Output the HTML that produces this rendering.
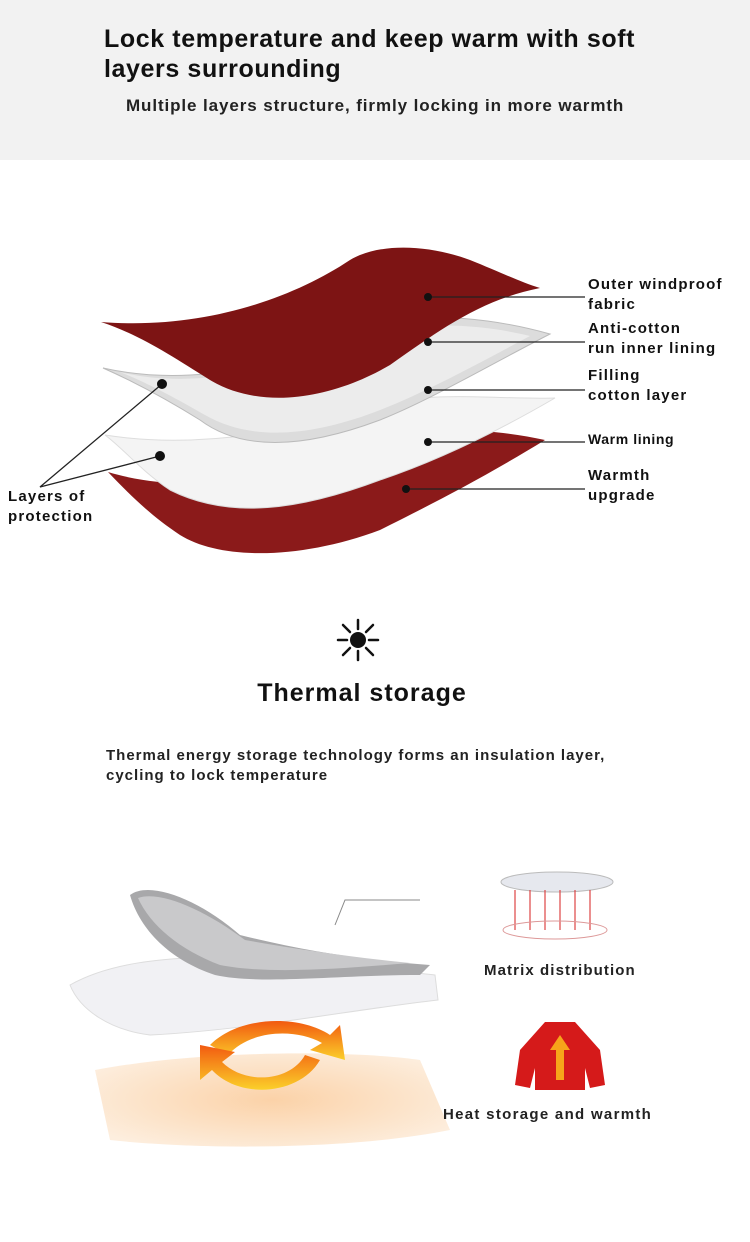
<!DOCTYPE html>
<html><head><meta charset="utf-8"><style>
body{margin:0;background:#fff;}
#w{position:relative;width:750px;height:1242px;overflow:hidden;font-family:"Liberation Sans",sans-serif;background:#fff;}
.t{position:absolute;font-weight:bold;color:#111;white-space:nowrap;}
.l{font-size:15px;line-height:20px;letter-spacing:1.2px}
</style></head><body><div id="w">
<div style="position:absolute;left:0;top:0;width:750px;height:160px;background:#f2f2f2"></div>
<div class="t" style="left:104px;top:24px;font-size:25px;line-height:30px;letter-spacing:0.6px">Lock temperature and keep warm with soft<br>layers surrounding</div>
<div class="t" style="left:126px;top:96px;font-size:17px;color:#222;letter-spacing:0.9px">Multiple layers structure, firmly locking in more warmth</div>
<svg style="position:absolute;left:0;top:0" width="750" height="1242">
<defs>
<radialGradient id="peach" cx="0.5" cy="0.5" r="0.6"><stop offset="0" stop-color="#fbd2a8"/><stop offset="1" stop-color="#fdeede"/></radialGradient>
<linearGradient id="or" x1="0" y1="0" x2="0" y2="1"><stop offset="0" stop-color="#f25a10"/><stop offset="1" stop-color="#fbd02a"/></linearGradient>
</defs>
<path d="M108 472 C200 500 300 470 380 440 C440 425 500 430 545 440 C480 480 420 510 380 530 C300 560 220 560 180 535 C150 515 130 495 108 472Z" fill="#8b1a1a"/>
<path d="M105 435 C200 450 300 430 380 405 C440 390 500 400 555 398 C500 430 440 460 380 480 C300 510 230 520 170 490 C140 470 125 450 105 435Z" fill="#f4f4f4" stroke="#ddd"/>
<path d="M103 368 C200 390 300 360 380 325 C430 310 500 320 550 334 C480 370 430 400 380 420 C300 450 240 450 200 420 C160 395 130 380 103 368Z" fill="#dcdcdc" stroke="#bbb"/>
<path d="M120 372 C200 392 300 365 380 333 C430 320 490 326 530 336 C470 368 420 395 375 412 C300 440 245 438 205 415 C170 395 145 382 120 372Z" fill="#ececec"/>
<path d="M101 322 C200 330 290 300 350 260 C380 242 430 245 470 260 C500 272 520 282 540 288 C480 300 440 330 390 365 C330 400 260 410 210 380 C170 355 140 335 101 322Z" fill="#7d1414"/>
<g stroke="#222" stroke-width="1.3" fill="none">
<path d="M428 297 L585 297"/><path d="M428 342 L585 342"/><path d="M428 390 L585 390"/><path d="M428 442 L585 442"/><path d="M406 489 L585 489"/>
<path d="M162 384 L40 487 L160 456"/>
</g>
<g fill="#111"><circle cx="428" cy="297" r="4"/><circle cx="428" cy="342" r="4"/><circle cx="428" cy="390" r="4"/><circle cx="428" cy="442" r="4"/><circle cx="406" cy="489" r="4"/><circle cx="162" cy="384" r="5"/><circle cx="160" cy="456" r="5"/></g>
<g transform="translate(358,640)" fill="#111">
<circle r="8"/>
<g stroke="#111" stroke-width="2.5" stroke-linecap="round">
<line x1="0" y1="-11" x2="0" y2="-20"/><line x1="0" y1="11" x2="0" y2="20"/><line x1="-11" y1="0" x2="-20" y2="0"/><line x1="11" y1="0" x2="20" y2="0"/>
<line x1="8" y1="8" x2="15" y2="15"/><line x1="-8" y1="8" x2="-15" y2="15"/><line x1="8" y1="-8" x2="15" y2="-15"/><line x1="-8" y1="-8" x2="-15" y2="-15"/>
</g></g>
<path d="M95 1070 C200 1050 350 1050 420 1060 L450 1130 C350 1150 200 1150 110 1140Z" fill="url(#peach)"/>
<path d="M70 985 C150 940 300 960 435 975 L438 1000 C350 1010 250 1030 150 1035 C110 1030 80 1010 70 985Z" fill="#f1f1f4" stroke="#ddd"/>
<path d="M130 895 C150 880 200 900 240 935 C300 950 360 960 430 965 L420 975 C340 975 260 985 215 975 C170 960 140 930 130 895Z" fill="#a8a8aa"/>
<path d="M138 898 C160 890 205 910 245 940 C300 950 360 958 410 963 C350 968 270 975 220 965 C180 950 150 925 138 898Z" fill="#c9c9cb"/>
<path d="M335 925 L345 900 L420 900" stroke="#888" fill="none"/>
<path d="M210 1045 C240 1015 300 1015 330 1035 L340 1025 L345 1060 L310 1050 L322 1043 C295 1028 250 1030 228 1055Z" fill="url(#or)"/>
<path d="M320 1060 C300 1095 240 1100 212 1070 L200 1080 L200 1045 L235 1052 L222 1062 C245 1085 290 1082 305 1055Z" fill="url(#or)"/>
<ellipse cx="557" cy="882" rx="56" ry="10" fill="#e6e8ee" stroke="#bbb"/>
<g stroke="#d44" stroke-width="1.2"><line x1="515" y1="890" x2="515" y2="930"/><line x1="530" y1="890" x2="530" y2="930"/><line x1="545" y1="890" x2="545" y2="930"/><line x1="560" y1="890" x2="560" y2="930"/><line x1="575" y1="890" x2="575" y2="930"/><line x1="590" y1="890" x2="590" y2="930"/></g>
<ellipse cx="555" cy="930" rx="52" ry="9" fill="none" stroke="#d99"/>
<path d="M545 1022 L575 1022 L600 1050 L605 1085 L590 1088 L585 1068 L585 1090 L535 1090 L535 1068 L530 1088 L515 1085 L520 1050Z" fill="#d51a1a"/>
<path d="M560 1035 L550 1050 L556 1050 L556 1080 L564 1080 L564 1050 L570 1050Z" fill="#f7a41a"/>
</svg>
<div class="t l" style="left:588px;top:275px">Outer windproof<br>fabric</div>
<div class="t l" style="left:588px;top:319px">Anti-cotton<br>run inner lining</div>
<div class="t l" style="left:588px;top:366px">Filling<br>cotton layer</div>
<div class="t" style="left:588px;top:431px;font-size:14px;letter-spacing:0.6px">Warm lining</div>
<div class="t l" style="left:588px;top:466px">Warmth<br>upgrade</div>
<div class="t l" style="left:8px;top:487px">Layers of<br>protection</div>
<div class="t" style="left:0;width:724px;text-align:center;top:679px;font-size:25px;letter-spacing:1px">Thermal storage</div>
<div class="t" style="left:106px;top:746px;font-size:15px;line-height:20px;color:#222;letter-spacing:1px">Thermal energy storage technology forms an insulation layer,<br>cycling to lock temperature</div>
<div class="t" style="left:484px;top:962px;font-size:15px;color:#222;letter-spacing:1.1px">Matrix distribution</div>
<div class="t" style="left:443px;top:1106px;font-size:15px;color:#222;letter-spacing:1.3px">Heat storage and warmth</div>
</div></body></html>
